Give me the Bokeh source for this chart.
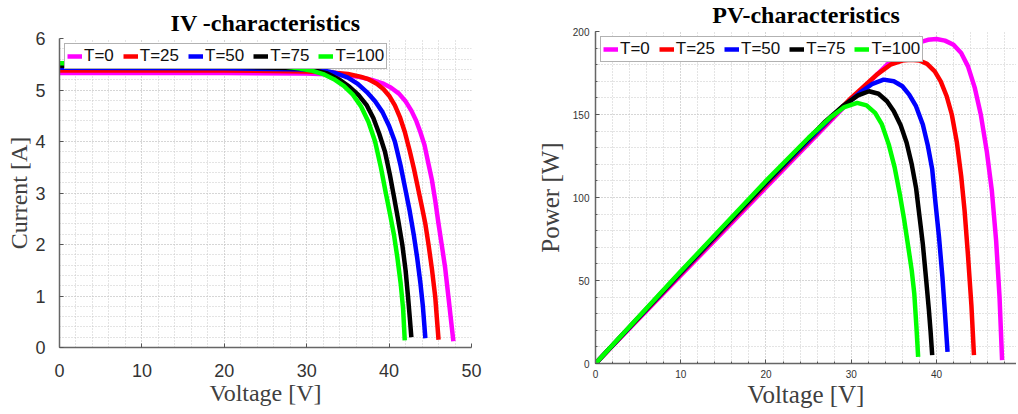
from bokeh.plotting import figure
from bokeh.layouts import row, column
from bokeh.models import Range1d, Legend, LegendItem, SingleIntervalTicker
from bokeh.embed import file_html
from bokeh.resources import INLINE

labels = ["T=0", "T=25", "T=50", "T=75", "T=100"]
colors = ["#ff00ff", "#ff0000", "#0000ff", "#000000", "#00ff00"]

# IV characteristics (Voltage [V], Current [A])
iv_v_t0 = [0, 20, 30, 33, 35, 36.5, 38, 39.2, 40.2, 41.2, 42.0, 42.7, 43.3, 43.8, 44.3, 44.8, 45.2, 45.6, 46.0, 46.4, 46.8, 47.2, 47.5, 47.8]
iv_i_t0 = [5.33, 5.33, 5.32, 5.30, 5.28, 5.25, 5.19, 5.13, 5.05, 4.93, 4.78, 4.60, 4.40, 4.18, 3.93, 3.55, 3.25, 2.85, 2.40, 1.98, 1.55, 0.98, 0.55, 0.12]
iv_v_t25 = [0, 20, 30, 33, 35, 36.5, 37.5, 38.5, 39.3, 40.0, 40.7, 41.3, 41.9, 42.5, 43.0, 43.5, 44.0, 44.4, 44.8, 45.2, 45.6, 46.0]
iv_i_t25 = [5.38, 5.38, 5.36, 5.34, 5.31, 5.26, 5.21, 5.12, 5.02, 4.89, 4.70, 4.48, 4.19, 3.82, 3.48, 3.10, 2.72, 2.40, 1.98, 1.52, 0.98, 0.15]
iv_v_t50 = [0, 20, 30, 32, 33.5, 35, 36.2, 37.3, 38.3, 39.2, 40.0, 40.7, 41.4, 42.0, 42.5, 43.0, 43.4, 43.8, 44.1, 44.4]
iv_i_t50 = [5.43, 5.42, 5.40, 5.38, 5.33, 5.24, 5.12, 4.96, 4.78, 4.57, 4.30, 4.00, 3.53, 3.05, 2.65, 2.18, 1.75, 1.25, 0.80, 0.18]
iv_v_t75 = [0, 20, 29, 31, 32.5, 34, 35.2, 36.3, 37.3, 38.1, 38.8, 39.5, 40.1, 40.6, 41.1, 41.6, 42.0, 42.3, 42.5, 42.7]
iv_i_t75 = [5.47, 5.46, 5.42, 5.38, 5.32, 5.20, 5.06, 4.90, 4.70, 4.45, 4.15, 3.80, 3.35, 2.92, 2.48, 2.00, 1.50, 0.98, 0.60, 0.20]
iv_v_t100 = [0, 20, 27, 29, 30.5, 32, 33.3, 34.5, 35.6, 36.6, 37.5, 38.3, 39.0, 39.6, 40.1, 40.6, 41.0, 41.4, 41.7, 41.9]
iv_i_t100 = [5.52, 5.50, 5.46, 5.42, 5.38, 5.31, 5.21, 5.08, 4.91, 4.68, 4.38, 4.00, 3.50, 3.00, 2.60, 2.18, 1.75, 1.25, 0.75, 0.14]

# PV characteristics (Voltage [V], Power [W])
pv_v_t0 = [0, 10, 20, 30, 35, 36.5, 38, 39, 40, 41, 42, 42.9, 43.7, 44.5, 45.2, 45.9, 46.5, 47.0, 47.4, 47.7]
pv_p_t0 = [0, 53, 106, 159, 184, 189.5, 193.5, 195, 195.5, 194.5, 192, 187, 179, 166, 150, 128, 104, 74, 40, 2]
pv_v_t25 = [0, 10, 20, 30, 33, 34.6, 36, 37, 38, 38.9, 39.8, 40.5, 41.2, 41.8, 42.4, 42.9, 43.3, 43.7, 44.1, 44.4]
pv_p_t25 = [0, 54, 107.5, 160, 174, 180, 182.5, 183, 182.5, 180.5, 176, 170, 161, 150, 133, 113, 92, 65, 35, 5]
pv_v_t50 = [0, 10, 20, 28, 31, 32.5, 33.8, 35, 36, 36.8, 37.6, 38.4, 39.0, 39.5, 39.9, 40.3, 40.7, 41.0, 41.3]
pv_p_t50 = [0, 54.5, 108.5, 150, 163, 168.5, 171, 170, 167, 162, 155, 144, 131, 117, 96, 76, 52, 30, 7]
pv_v_t75 = [0, 10, 20, 27, 29, 30.8, 32.1, 33.2, 34.2, 35.0, 35.8, 36.5, 37.1, 37.6, 38.0, 38.4, 38.8, 39.1, 39.3, 39.5]
pv_p_t75 = [0, 55, 109, 146, 155, 161.5, 164, 162.5, 158, 152, 143.5, 133, 120, 106, 89, 72, 50, 33, 20, 5]
pv_v_t100 = [0, 10, 20, 25, 27.5, 29.2, 30.7, 31.8, 32.8, 33.6, 34.4, 35.1, 35.7, 36.2, 36.7, 37.1, 37.4, 37.65, 37.85]
pv_p_t100 = [0, 55.5, 110, 136, 148, 154.5, 157, 155.5, 151, 144, 132, 118, 102, 87, 70, 56, 42, 22, 4]

iv_series = [(iv_v_t0, iv_i_t0), (iv_v_t25, iv_i_t25), (iv_v_t50, iv_i_t50),
             (iv_v_t75, iv_i_t75), (iv_v_t100, iv_i_t100)]
pv_series = [(pv_v_t0, pv_p_t0), (pv_v_t25, pv_p_t25), (pv_v_t50, pv_p_t50),
             (pv_v_t75, pv_p_t75), (pv_v_t100, pv_p_t100)]

GRID = "#c8c8c8"


def style(p, xint, yint, tick_size, xstand, ystand, minor_ticks):
    p.outline_line_color = None
    p.background_fill_color = "white"
    p.border_fill_color = "white"
    p.xaxis.ticker = SingleIntervalTicker(interval=xint, num_minor_ticks=5)
    p.yaxis.ticker = SingleIntervalTicker(interval=yint, num_minor_ticks=5)
    for g in (p.xgrid, p.ygrid):
        g.grid_line_color = GRID
        g.grid_line_dash = "1 2"
        g.grid_line_width = 1
        g.minor_grid_line_color = GRID
        g.minor_grid_line_dash = "1 2"
        g.minor_grid_line_width = 1
    for ax in (p.xaxis, p.yaxis):
        ax.axis_line_color = "#666666"
        ax.axis_line_width = 1.5
        ax.major_tick_line_color = "#555555"
        ax.major_tick_in = 4
        ax.major_tick_out = 0
        ax.minor_tick_line_color = "#555555" if minor_ticks else None
        ax.minor_tick_in = 2 if minor_ticks else 0
        ax.minor_tick_out = 0
        ax.major_label_text_font = "Liberation Sans"
        ax.major_label_text_font_size = tick_size
        ax.major_label_text_color = "#333333"
        ax.axis_label_text_font = "Liberation Serif"
        ax.axis_label_text_font_style = "normal"
        ax.axis_label_text_color = "#404040"
    p.xaxis.major_label_standoff = xstand
    p.yaxis.major_label_standoff = ystand


def style_title(p, text, standoff, offset):
    p.title.text = text
    p.title.align = "center"
    p.title.text_font = "Liberation Serif"
    p.title.text_font_style = "bold"
    p.title.text_font_size = "24px"
    p.title.text_color = "#000000"
    p.title.standoff = standoff
    p.title.offset = offset


def add_legend(p, renderers):
    items = [LegendItem(label=l, renderers=[r]) for l, r in zip(labels, renderers)]
    leg = Legend(items=items, orientation="horizontal", location="top_left",
                 margin=5, padding=2, spacing=9, label_standoff=2,
                 glyph_width=15, glyph_height=16, label_height=16,
                 label_text_font="Liberation Sans", label_text_font_size="17px",
                 label_text_color="#111111",
                 border_line_color="#666666", border_line_width=1.5,
                 background_fill_color="white", background_fill_alpha=1)
    p.add_layout(leg)


# Left: IV characteristics
p1 = figure(width=500, height=412, x_range=Range1d(0, 50), y_range=Range1d(0, 6),
            output_backend="svg", toolbar_location=None,
            min_border_left=59, min_border_right=29, min_border_top=38, min_border_bottom=65)
style(p1, 10, 1, "18px", 16, 14, False)
p1.xaxis.axis_label = "Voltage [V]"
p1.yaxis.axis_label = "Current [A]"
p1.xaxis.axis_label_text_font_size = "24px"
p1.yaxis.axis_label_text_font_size = "24px"
p1.xaxis.axis_label_standoff = 0
p1.yaxis.axis_label_standoff = 0
style_title(p1, "IV -characteristics", 5, 0)
r1 = []
for (v, i), c in zip(iv_series, colors):
    r1.append(p1.line(v, i, line_color=c, line_width=4.5, line_join="round"))
add_legend(p1, r1)

# Right: PV characteristics (figure raised 9px so its title can sit higher)
p2 = figure(width=516, height=421, x_range=Range1d(0, 49.39), y_range=Range1d(0, 200),
            output_backend="svg", toolbar_location=None,
            min_border_left=95, min_border_right=0, min_border_top=40, min_border_bottom=49)
style(p2, 10, 50, "10px", 6, 6, True)
p2.xaxis.axis_label = "Voltage [V]"
p2.yaxis.axis_label = "Power [W]"
p2.xaxis.axis_label_text_font_size = "25px"
p2.yaxis.axis_label_text_font_size = "25px"
p2.xaxis.axis_label_standoff = 0
p2.yaxis.axis_label_standoff = 6
style_title(p2, "PV-characteristics", 8, 3)
r2 = []
for (v, pw), c in zip(pv_series, colors):
    r2.append(p2.line(v, pw, line_color=c, line_width=4.5, line_join="round"))
add_legend(p2, r2)

layout = row(column(p1), column(p2, styles={"margin-top": "-9px"}))
open("out.html", "w").write(file_html(layout, INLINE))
